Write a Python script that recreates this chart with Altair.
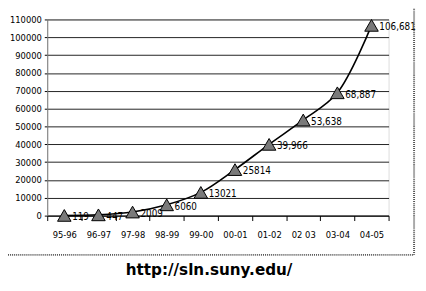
import altair as alt
import pandas as pd

years = ["95-96", "96-97", "97-98", "98-99", "99-00", "00-01", "01-02", "02 03", "03-04", "04-05"]
values = [119, 447, 2009, 6060, 13021, 25814, 39966, 53638, 68887, 106681]
labels = ["119", "447", "2009", "6060", "13021", "25814", "39,966", "53,638", "68,887", "106,681"]
y_ticks = list(range(0, 110001, 10000))
footer = "http://sln.suny.edu/"

df = pd.DataFrame({"year": years, "value": values, "label": labels})
one = pd.DataFrame({"t": [footer]})

FONT = "DejaVu Sans Condensed, sans-serif"
FS = 9.5

x = alt.X("year:N", sort=years, title=None,
          scale=alt.Scale(paddingInner=0, paddingOuter=0),
          axis=alt.Axis(labelAngle=0, labelFont=FONT, labelFontSize=FS, labelColor="black",
                        domainColor="black", tickColor="black", tickSize=5, tickBand="extent",
                        labelPadding=9, grid=False))
y = alt.Y("value:Q", title=None,
          scale=alt.Scale(domain=[0, 110000], nice=False),
          axis=alt.Axis(values=y_ticks, labelFont=FONT, labelFontSize=FS, labelColor="black",
                        format="d", domainColor="#777", tickColor="black", tickSize=3,
                        labelPadding=3, grid=True, gridColor="#222", gridWidth=1))

base = alt.Chart(df).encode(x=x, y=y)

line = base.mark_line(color="black", strokeWidth=1.6, interpolate="catmull-rom")
pts = base.mark_point(shape="triangle-up", size=190, filled=True, fill="#7a7a7a",
                      stroke="black", strokeWidth=1, opacity=1)
txt = base.mark_text(align="left", baseline="middle", dx=8, dy=2, font=FONT,
                     fontSize=FS + 0.5, color="black").encode(text="label:N")

frame_r = alt.Chart(one).mark_rule(color="#555", strokeWidth=2, strokeDash=[1, 1]).encode(
    x=alt.value(374), y=alt.value(-17), y2=alt.value(240))
frame_b = alt.Chart(one).mark_rule(color="#555", strokeWidth=2, strokeDash=[1, 1]).encode(
    x=alt.value(-40), x2=alt.value(374), y=alt.value(240))
title = alt.Chart(one).mark_text(font="DejaVu Sans", fontWeight="bold", fontSize=15.5,
                                 color="black", align="center", baseline="middle").encode(
    x=alt.value(165), y=alt.value(256), text="t:N")

chart = alt.layer(line, pts, txt, frame_r, frame_b, title).properties(
    width=348, height=200,
    autosize=alt.AutoSizeParams(type="none"),
    padding={"left": 40, "top": 9, "right": 30, "bottom": 66},
).configure_view(stroke=None).configure(background="white")

chart.save("out.html", embed_options={"renderer": "svg", "actions": False})
